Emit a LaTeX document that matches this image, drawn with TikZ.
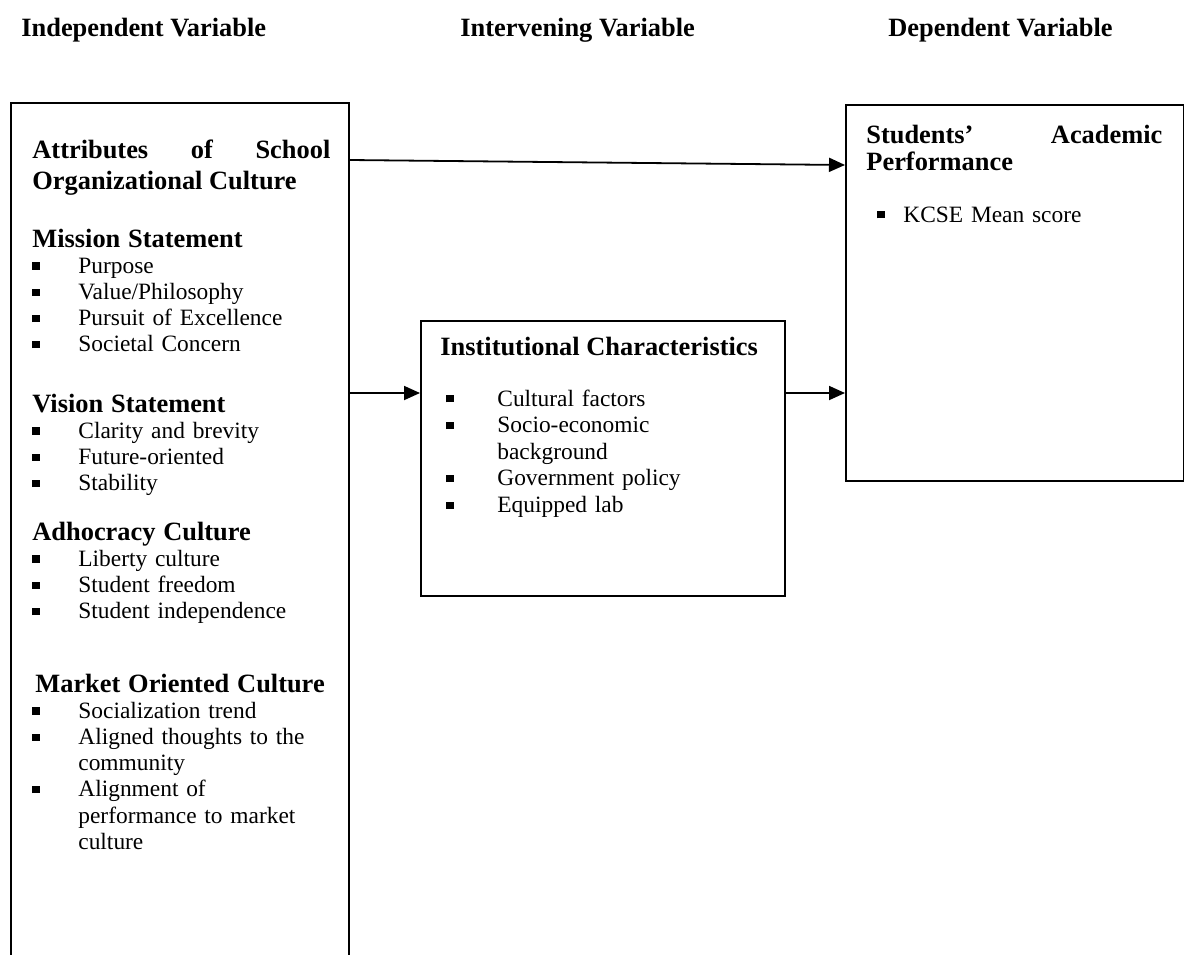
\documentclass[tikz,border=0pt]{standalone}
\usepackage{fontspec}
\setmainfont{Liberation Serif}
\usetikzlibrary{arrows.meta}

\hyphenpenalty=10000
\exhyphenpenalty=10000

\newlength{\bulw}
\newcommand{\bul}{\rule[1.8pt]{3.6pt}{3.6pt}}
\newcommand{\hd}[1]{{\fontsize{13.2}{15.5}\selectfont\bfseries #1\par}}
\newcommand{\itm}[1]{\hangindent=\bulw\hangafter=1\noindent\makebox[\bulw][l]{\bul}#1\par}

\tikzset{
    box/.style={draw, line width=1pt, inner sep=0pt, anchor=north west},
    txt/.style={anchor=base west, inner sep=0pt, align=left,
                font=\fontsize{11.7}{13.1}\selectfont},
    head/.style={txt, align=justify, font=\fontsize{13.2}{15.5}\selectfont\bfseries},
    title/.style={txt, font=\fontsize{13.2}{15.5}\selectfont\bfseries},
    arr/.style={line width=0.9pt, -{Triangle[length=8pt,width=7pt]}},
}

\begin{document}
\begin{tikzpicture}[x=0.5pt, y=-0.5pt]

    % Page frame (pixels of the reference)
    \useasboundingbox (0,0) rectangle (1184,954);
    \clip (0,0) rectangle (1184,954);

    % Column titles
    \node[title] (tindep) at (21,36)  {Independent Variable};
    \node[title] (tinter) at (460,36) {Intervening Variable};
    \node[title] (tdep)   at (888,36) {Dependent Variable};

    % Boxes
    \node[box, minimum width=169pt, minimum height=460pt]   (indep)  at (10,102)  {};
    \node[box, minimum width=182pt, minimum height=137.5pt] (interv) at (420,320) {};
    \node[box, minimum width=169pt, minimum height=188pt]   (dep)    at (845,104) {};

    % Independent variable
    \node[head, text width=149pt] (attr) at (32,158) {Attributes of School Organizational Culture};
    \setlength{\bulw}{23pt}
    \node[txt, text width=143pt] (mission) at (32,247) {\hd{Mission Statement}
        \itm{Purpose}
        \itm{Value/Philosophy}
        \itm{Pursuit of Excellence}
        \itm{Societal Concern}};
    \node[txt, text width=143pt] (vision) at (32,412) {\hd{Vision Statement}
        \itm{Clarity and brevity}
        \itm{Future-oriented}
        \itm{Stability}};
    \node[txt, text width=143pt] (adhoc) at (32,540) {\hd{Adhocracy Culture}
        \itm{Liberty culture}
        \itm{Student freedom}
        \itm{Student independence}};
    \node[txt, text width=143pt] (market) at (32,692) {\hd{\mbox{\hspace{1.5pt}Market Oriented Culture}}
        \itm{Socialization trend}
        \itm{Aligned thoughts to the community}
        \itm{Alignment of performance to market culture}};

    % Intervening variable
    \node[title] (inst) at (440,355) {Institutional Characteristics};
    \setlength{\bulw}{25.5pt}
    \node[txt, text width=135pt, font=\fontsize{11.7}{13.3}\selectfont] (instlist) at (446,406) {%
        \itm{Cultural factors}
        \itm{Socio-economic background}
        \itm{Government policy}
        \itm{Equipped lab}};

    % Dependent variable
    \node[head, text width=148pt, font=\fontsize{13.2}{13.5}\selectfont\bfseries] (perf) at (866,143) {Students’ Academic Performance};
    \setlength{\bulw}{13pt}
    \node[txt, text width=140pt] (kcse) at (877,222) {\itm{KCSE Mean score}};

    % Arrows
    \coordinate (ip) at ([yshift=-36.5pt]interv.north west);
    \draw[arr] ([yshift=-29pt]indep.north east) -- ([yshift=-30.5pt]dep.north west);
    \draw[arr] (indep.east |- ip) -- (ip);
    \draw[arr] ([yshift=-36.5pt]interv.north east) -- (dep.west |- ip);

\end{tikzpicture}
\end{document}
